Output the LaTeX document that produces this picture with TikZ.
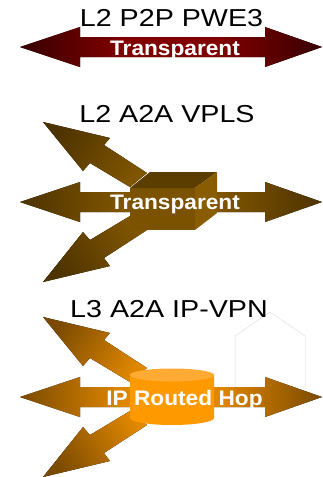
\documentclass[tikz,border=0pt]{standalone}
\usepackage{fontspec}
\setmainfont{Liberation Sans}
\definecolor{wineDark}{RGB}{56,0,0}
\definecolor{wineLight}{RGB}{128,0,0}
\definecolor{brownDark}{RGB}{77,51,0}
\definecolor{brownLight}{RGB}{128,85,0}
\definecolor{amberDark}{RGB}{122,74,0}
\definecolor{amberLight}{RGB}{224,135,0}
\definecolor{drumSide}{RGB}{255,153,0}
\definecolor{drumTop}{RGB}{255,170,51}
\definecolor{boxFront}{RGB}{122,82,0}
\definecolor{boxTop}{RGB}{92,61,0}
\definecolor{boxSide}{RGB}{138,92,0}
\pgfdeclarehorizontalshading{wineBar}{100bp}{color(0bp)=(wineDark); color(25bp)=(wineDark); color(42bp)=(wineLight); color(58bp)=(wineLight); color(75bp)=(wineDark); color(100bp)=(wineDark)}
\pgfdeclarehorizontalshading{brownBar}{100bp}{color(0bp)=(brownDark); color(25bp)=(brownDark); color(42bp)=(brownLight); color(58bp)=(brownLight); color(75bp)=(brownDark); color(100bp)=(brownDark)}
\pgfdeclarehorizontalshading{amberBar}{100bp}{color(0bp)=(amberDark); color(25bp)=(amberDark); color(42bp)=(amberLight); color(58bp)=(amberLight); color(75bp)=(amberDark); color(100bp)=(amberDark)}
\begin{document}
\begin{tikzpicture}
    [%%%%%%%%%%%%%%%%%%%%%%%%%%%%%%
        x=1pt,y=1pt,
        title/.style={font=\fontsize{24.5}{24.5}\selectfont,anchor=base,inner sep=0pt,xscale=1.17,transform shape},
        tag/.style={font=\fontsize{21}{21}\selectfont\bfseries,text=white,anchor=base,inner sep=0pt,xscale=1.08,transform shape},
    ]%%%%%%%%%%%%%%%%%%%%%%%%%%%%%%
\useasboundingbox (0,0) rectangle (322,-477);

% faint outline behind the last row
\draw[black!12,line width=.5pt] (235,-388) -- (235,-336) -- (270,-312) -- (305,-336) -- (305,-388);

% slanted arrows of the two lower rows
\foreach \dy/\dark/\light in {0/brownDark/brownLight,-195/amberDark/amberLight}{
    \fill[left color=\dark,right color=\light,shading angle=58,yshift=\dy] (43,-122) -- (110,-138) -- (104,-145) -- (147,-173) -- (130,-187) -- (90,-163) -- (83,-171) -- cycle;
    \fill[left color=\dark,right color=\light,shading angle=122,yshift=\dy] (43,-282) -- (110,-266) -- (104,-258) -- (147,-230) -- (130,-216) -- (90,-240) -- (83,-232) -- cycle;
}

% the three double arrows
\foreach \y/\bar in {-47/wineBar,-202/brownBar,-397/amberBar}{
    \fill[shading=\bar,yshift=\y] (20,0) -- (80,20) -- (80,10) -- (265,10) -- (265,20) -- (322,0) -- (265,-20) -- (265,-10) -- (80,-10) -- (80,-20) -- cycle;
}

% box
\fill[boxFront] (130,-188) rectangle (195,-230);
\fill[boxTop] (130,-188) -- (150,-172) -- (217,-172) -- (195,-188) -- cycle;
\fill[boxSide] (195,-188) -- (217,-172) -- (217,-213) -- (195,-230) -- cycle;

% drum
\fill[drumSide] (130,-375) -- (130,-418) arc[start angle=180,end angle=360,x radius=42,y radius=7] -- (214,-375) -- cycle;
\fill[drumTop] (172,-375) ellipse[x radius=42,y radius=6.5];

\node[title] (titleWire) at (171.5,-26) {L2 P2P PWE3};
\node[title] (titleLan) at (167,-122) {L2 A2A VPLS};
\node[title] (titleIp) at (169,-317) {L3 A2A IP-VPN};
\node[tag] (tagWire) at (175,-55) {Transparent};
\node[tag] (tagLan) at (175,-209) {Transparent};
\node[tag] (tagIp) at (184.5,-405) {IP Routed Hop};
\end{tikzpicture}
\end{document}
